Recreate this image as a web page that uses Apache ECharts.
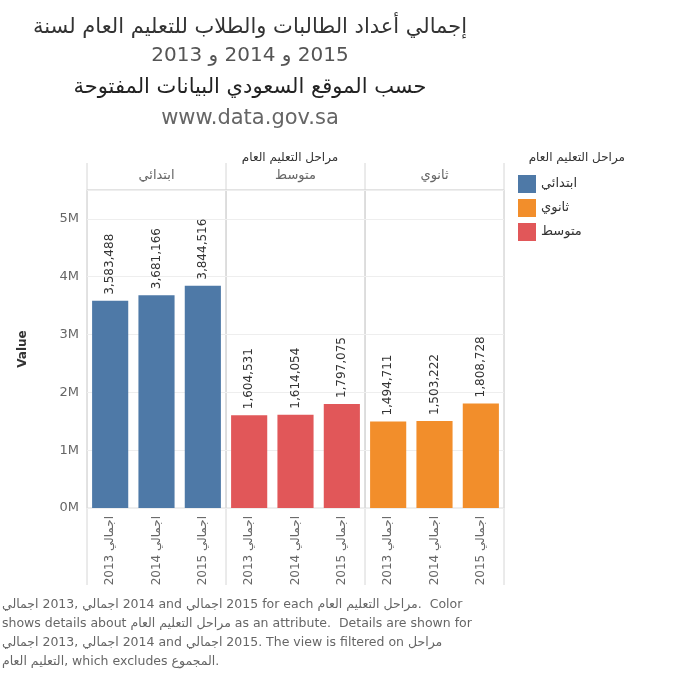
<!DOCTYPE html>
<html><head><meta charset="utf-8">
<script src="https://cdn.jsdelivr.net/npm/echarts@6/dist/echarts.min.js"></script>
<style>html,body{margin:0;padding:0;background:#fff}#c{width:677px;height:680px}</style>
</head><body><div id="c"></div>
<script>
var years = ['اجمالي 2013', 'اجمالي 2014', 'اجمالي 2015'];
var stages = ['ابتدائي', 'متوسط', 'ثانوي'];
var colors = ['#4e79a7', '#e15759', '#f28e2b'];
var primary = [3583488, 3681166, 3844516];
var middle = [1604531, 1614054, 1797075];
var secondary = [1494711, 1503222, 1808728];
var values = [primary, middle, secondary];
var yTicks = ['0M', '1M', '2M', '3M', '4M', '5M'];

var font = 'DejaVu Sans, sans-serif';
var panelLeft = [87, 226, 365], panelW = 139;
var plotTop = 190, plotBottom = 508;

var grids = [], xAxes = [], yAxes = [], series = [], graphics = [];
for (var i = 0; i < 3; i++) {
	grids.push({left: panelLeft[i], width: panelW, top: plotTop, height: plotBottom - plotTop,
		show: true, borderColor: '#dcdcdc', borderWidth: 1});
	xAxes.push({type: 'category', gridIndex: i, data: years,
		axisLine: {show: false}, axisTick: {show: false},
		axisLabel: {rotate: 90, color: '#666', fontSize: 12, fontFamily: font, margin: 8}});
	yAxes.push({type: 'value', gridIndex: i, min: 0, max: 5500000, interval: 1000000,
		splitLine: {show: true, lineStyle: {color: '#eeeeee'}},
		axisLine: {show: false}, axisTick: {show: false},
		name: i == 0 ? 'Value' : '', nameLocation: 'middle', nameGap: 58,
		nameTextStyle: {color: '#333', fontSize: 12, fontWeight: 'bold', fontFamily: font},
		axisLabel: {show: i == 0, color: '#666', fontSize: 13, fontFamily: font, showMaxLabel: false,
			formatter: function(v) { return yTicks[v / 1000000] || ''; }}});
	series.push({name: stages[i], type: 'bar', xAxisIndex: i, yAxisIndex: i, data: values[i],
		barCategoryGap: '22%', itemStyle: {color: colors[i]},
		label: {show: true, position: 'top', rotate: 90, align: 'left', verticalAlign: 'middle',
			distance: 6, color: '#333', fontSize: 12, fontFamily: font,
			formatter: function(p) { return p.value.toLocaleString('en-US'); }}});
	// header cell
	graphics.push({type: 'text', x: panelLeft[i] + panelW / 2, y: 176,
		style: {text: stages[i], fill: '#666', font: '13px ' + font, textAlign: 'center', textVerticalAlign: 'middle'}});
}
// header and label area separators
var xs = [87, 226, 365, 504];
xs.forEach(function(x) {
	graphics.push({type: 'line', shape: {x1: x, y1: 163, x2: x, y2: 585}, style: {stroke: '#d6d6d6', lineWidth: 1}});
});
graphics.push({type: 'line', shape: {x1: 87, y1: 190, x2: 504, y2: 190}, style: {stroke: '#d6d6d6', lineWidth: 1}});

var RLE = '\u202B', PDF = '\u202C', LRM = '\u200E';
var titleLines = [
	{t: 'إجمالي أعداد الطالبات والطلاب للتعليم العام لسنة', y: 28, c: '#333', s: 21},
	{t: RLE + '2015 و 2014 و 2013' + PDF, y: 56, c: '#555', s: 20},
	{t: 'حسب الموقع السعودي البيانات المفتوحة', y: 88, c: '#222', s: 21},
	{t: 'www.data.gov.sa', y: 119, c: '#666', s: 21}
];
titleLines.forEach(function(l) {
	graphics.push({type: 'text', x: 250, y: l.y,
		style: {text: l.t, fill: l.c, font: l.s + 'px ' + font, textAlign: 'center', textVerticalAlign: 'middle'}});
});
graphics.push({type: 'text', x: 290, y: 158,
	style: {text: 'مراحل التعليم العام', fill: '#333', font: '12px ' + font, textAlign: 'center', textVerticalAlign: 'middle'}});

var ij = 'اجمالي' + LRM;
var caption = [
	ij + ' 2013, ' + ij + ' 2014 and ' + ij + ' 2015 for each مراحل التعليم العام' + LRM + '.  Color',
	'shows details about مراحل التعليم العام' + LRM + ' as an attribute.  Details are shown for',
	ij + ' 2013, ' + ij + ' 2014 and ' + ij + ' 2015. The view is filtered on مراحل',
	'التعليم العام' + LRM + ', which excludes المجموع' + LRM + '.'
];
caption.forEach(function(t, k) {
	graphics.push({type: 'text', x: 2, y: 598 + k * 19,
		style: {text: t, fill: '#666', font: '12.5px ' + font}});
});

var chart = echarts.init(document.getElementById('c'));
chart.setOption({
	animation: false,
	grid: grids, xAxis: xAxes, yAxis: yAxes, series: series,
	legend: {orient: 'vertical', left: 513, top: 170, itemWidth: 18, itemHeight: 18, itemGap: 6,
		icon: 'rect', data: ['ابتدائي', 'ثانوي', 'متوسط'],
		textStyle: {color: '#333', fontSize: 13, fontFamily: font}},
	graphic: graphics.concat([{type: 'text', x: 625, y: 158,
		style: {text: 'مراحل التعليم العام', fill: '#333', font: '12px ' + font, textAlign: 'right', textVerticalAlign: 'middle'}}])
});
</script></body></html>
